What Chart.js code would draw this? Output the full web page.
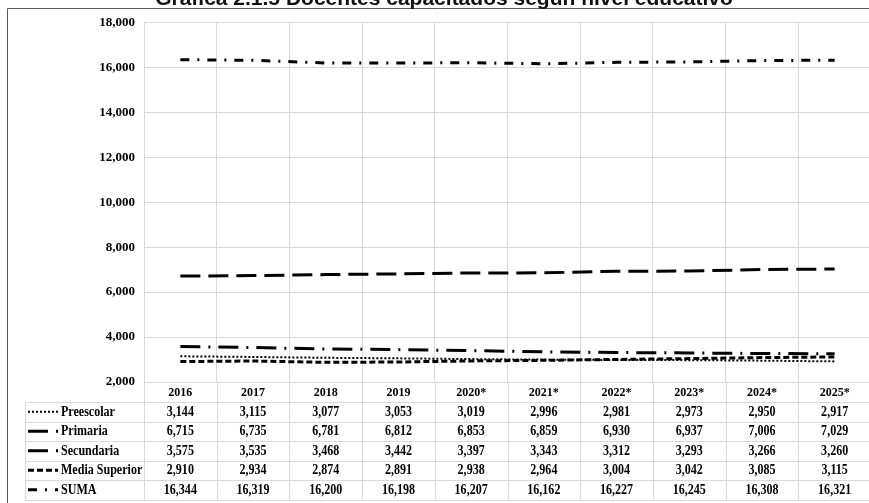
<!DOCTYPE html>
<html lang="es">
<head>
<meta charset="utf-8">
<title>Docentes capacitados según nivel educativo</title>
<script src="https://cdn.jsdelivr.net/npm/chart.js@4/dist/chart.umd.min.js"></script>
<style>
  html, body { margin: 0; padding: 0; background: #fff; overflow: hidden; }
  #wrap { width: 872px; height: 503px; }
</style>
</head>
<body>
<div id="wrap"><canvas id="grafica" width="872" height="503"></canvas></div>
<script>
// Ciclos escolares (columnas de la tabla y categorías del eje X)
const years = ['2016', '2017', '2018', '2019', '2020*', '2021*', '2022*', '2023*', '2024*', '2025*'];

// Docentes capacitados por nivel educativo
const preescolar    = [3144, 3115, 3077, 3053, 3019, 2996, 2981, 2973, 2950, 2917];
const primaria      = [6715, 6735, 6781, 6812, 6853, 6859, 6930, 6937, 7006, 7029];
const secundaria    = [3575, 3535, 3468, 3442, 3397, 3343, 3312, 3293, 3266, 3260];
const mediaSuperior = [2910, 2934, 2874, 2891, 2938, 2964, 3004, 3042, 3085, 3115];
const suma          = [16344, 16319, 16200, 16198, 16207, 16162, 16227, 16245, 16308, 16321];

// Eje Y
const yMin = 2000;
const yMax = 18000;
const yStep = 2000;

const titulo = 'Gráfica 2.1.5 Docentes capacitados según nivel educativo';

const series = [
  { label: 'Preescolar',     data: preescolar,    dash: [2, 2],         width: 2 },
  { label: 'Primaria',       data: primaria,      dash: [20, 8],        width: 3 },
  { label: 'Secundaria',     data: secundaria,    dash: [20, 8, 2, 8],  width: 3 },
  { label: 'Media Superior', data: mediaSuperior, dash: [6, 3],         width: 3 },
  { label: 'SUMA',           data: suma,          dash: [9, 8, 2, 8],   width: 3 }
];

const GRID = '#d9d9d9';
const SERIF = '"Liberation Serif", "Times New Roman", serif';
const fmt = v => v.toLocaleString('en-US');

// Texto de la tabla en serif negrita algo estrecha
function textoEstrecho(ctx, txt, x, y, align) {
  const k = 0.86;
  ctx.save();
  ctx.translate(x, y);
  ctx.scale(k, 1);
  ctx.textAlign = align;
  ctx.fillText(txt, 0, 0);
  ctx.restore();
}

// Tabla de datos bajo el eje X, alineada con las columnas de la escala
const tablaDatos = {
  id: 'tablaDatos',
  afterDraw(chart) {
    const { ctx, chartArea, scales } = chart;
    const x = scales.x;
    const W = chart.width;
    const rowTop = 402;
    const rowH = 19.5;
    const tableLeft = 25;
    const tableBottom = rowTop + rowH * series.length;
    const colW = (chartArea.right - chartArea.left) / years.length;

    ctx.save();

    // Borde del área del gráfico
    ctx.strokeStyle = '#595959';
    ctx.lineWidth = 1;
    ctx.beginPath();
    ctx.moveTo(7.5, 503);
    ctx.lineTo(7.5, 8.5);
    ctx.lineTo(W, 8.5);
    ctx.stroke();

    // Título
    ctx.fillStyle = '#111';
    ctx.font = 'bold 21px "Liberation Sans", Arial, sans-serif';
    ctx.textAlign = 'center';
    ctx.textBaseline = 'alphabetic';
    ctx.fillText(titulo, 444, 5);

    // Retícula de la tabla
    ctx.strokeStyle = GRID;
    ctx.lineWidth = 1;
    ctx.beginPath();
    for (let r = 0; r <= series.length; r++) {
      const y = Math.round(rowTop + r * rowH) + 0.5;
      ctx.moveTo(tableLeft, y);
      ctx.lineTo(W, y);
    }
    ctx.moveTo(tableLeft + 0.5, rowTop);
    ctx.lineTo(tableLeft + 0.5, tableBottom);
    for (let c = 0; c <= years.length; c++) {
      const xx = Math.round(chartArea.left + c * colW) + 0.5;
      ctx.moveTo(xx, chartArea.bottom);
      ctx.lineTo(xx, tableBottom);
    }
    ctx.stroke();

    // Claves de leyenda, nombres y valores
    ctx.textBaseline = 'middle';
    series.forEach((s, r) => {
      const cy = rowTop + r * rowH + rowH / 2;
      ctx.strokeStyle = '#000';
      ctx.lineWidth = s.width;
      ctx.lineCap = 'butt';
      ctx.setLineDash(s.dash);
      ctx.beginPath();
      ctx.moveTo(28, cy);
      ctx.lineTo(58, cy);
      ctx.stroke();
      ctx.setLineDash([]);

      ctx.fillStyle = '#000';
      ctx.font = 'bold 14px ' + SERIF;
      textoEstrecho(ctx, s.label, 61, cy + 0.5, 'left');
      s.data.forEach((v, i) => {
        textoEstrecho(ctx, fmt(v), x.getPixelForValue(i), cy + 0.5, 'center');
      });
    });

    ctx.restore();
  }
};

new Chart(document.getElementById('grafica'), {
  type: 'line',
  data: {
    labels: years,
    datasets: series.map(s => ({
      label: s.label,
      data: s.data,
      borderColor: '#000',
      backgroundColor: '#000',
      borderWidth: s.width,
      borderDash: s.dash,
      borderCapStyle: 'butt',
      pointRadius: 0,
      pointHoverRadius: 0,
      tension: 0,
      fill: false
    }))
  },
  options: {
    responsive: false,
    animation: false,
    devicePixelRatio: 1,
    layout: { padding: { top: 22.5, left: 0, right: 1, bottom: 0 } },
    plugins: {
      legend: { display: false },
      title: { display: false },
      tooltip: { enabled: false }
    },
    scales: {
      x: {
        type: 'category',
        offset: true,
        grid: { offset: true, color: GRID, drawTicks: false },
        border: { display: false },
        ticks: {
          color: '#000',
          font: { family: SERIF, size: 12, weight: 'bold' },
          padding: 4,
          maxRotation: 0,
          autoSkip: false
        },
        afterFit(scale) { scale.height = 503 - 382; }
      },
      y: {
        min: yMin,
        max: yMax,
        grid: { color: GRID, drawTicks: false },
        border: { display: true, color: GRID },
        ticks: {
          stepSize: yStep,
          color: '#000',
          font: { family: SERIF, size: 13, weight: 'bold' },
          padding: 9,
          callback: v => fmt(v)
        },
        afterFit(scale) { scale.width = 144; }
      }
    }
  },
  plugins: [tablaDatos]
});
</script>
</body>
</html>
